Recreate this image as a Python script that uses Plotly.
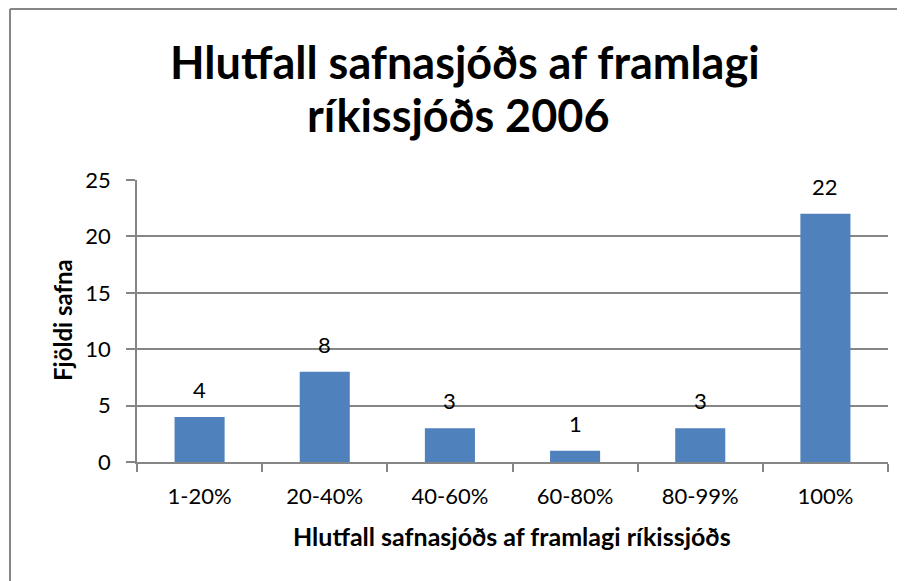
import plotly.graph_objects as go

categories = ["1-20%", "20-40%", "40-60%", "60-80%", "80-99%", "100%"]
counts = [4, 8, 3, 1, 3, 22]
y_ticks = [0, 5, 10, 15, 20, 25]

title_line1 = "Hlutfall safnasjóðs af framlagi"
title_line2 = "ríkissjóðs 2006"
x_title = "Hlutfall safnasjóðs af framlagi ríkissjóðs"
y_title = "Fjöldi safna"

W, H = 905, 581
OFF = 8  # page body margin
L, R, T, B = 137 - OFF, 25, 180 - OFF, 127
pw, ph = W - L - R, H - T - B

def px(x):
    # x in page pixels -> paper coordinate
    return (x - OFF - L) / pw

def py(y):
    return (H - B - (y - OFF)) / ph

FONT = "Lato"
GRID = "#868686"

fig = go.Figure()
fig.add_trace(go.Bar(
    x=categories, y=counts,
    marker=dict(color="#4F81BD", line=dict(width=0)),
    width=0.4,
))

for c, v in zip(categories, counts):
    fig.add_annotation(x=c, y=v, text=str(v), showarrow=False,
                       xref="x", yref="y", yanchor="bottom", yshift=12,
                       font=dict(family=FONT, size=22, color="black"))

fig.add_annotation(x=px(465), y=py(62), xref="paper", yref="paper",
                   text=title_line1, showarrow=False, xanchor="center", yanchor="middle",
                   font=dict(family=FONT, size=45, color="black", weight="bold"))
fig.add_annotation(x=px(458), y=py(115), xref="paper", yref="paper",
                   text=title_line2, showarrow=False, xanchor="center", yanchor="middle",
                   font=dict(family=FONT, size=45, color="black", weight="bold"))
fig.add_annotation(x=px(512), y=py(536), xref="paper", yref="paper",
                   text=x_title, showarrow=False, xanchor="center", yanchor="middle",
                   font=dict(family=FONT, size=25, color="black", weight="bold"))
fig.add_annotation(x=px(62), y=py(320), xref="paper", yref="paper",
                   text=y_title, showarrow=False, xanchor="center", yanchor="middle",
                   textangle=-90,
                   font=dict(family=FONT, size=24, color="black", weight="bold"))

# chart border (left and top edges visible)
fig.add_shape(type="line", xref="paper", yref="paper",
              x0=px(10), y0=py(600), x1=px(10), y1=py(9),
              line=dict(color=GRID, width=2))
fig.add_shape(type="line", xref="paper", yref="paper",
              x0=px(10), y0=py(9), x1=px(920), y1=py(9),
              line=dict(color=GRID, width=2))

fig.update_layout(
    width=W, height=H,
    margin=dict(l=L, r=R, t=T, b=B),
    plot_bgcolor="white", paper_bgcolor="white",
    showlegend=False,
    font=dict(family=FONT, size=22, color="black"),
    xaxis=dict(
        type="category", tickson="boundaries", ticks="outside", ticklen=8,
        tickcolor=GRID, tickwidth=1.5,
        showline=True, linecolor=GRID, linewidth=1.5,
        showgrid=False, tickfont=dict(family=FONT, size=22, color="black"),
        ticklabelstandoff=14,
    ),
    yaxis=dict(
        range=[0, 25], tickvals=y_ticks, ticks="outside", ticklen=9,
        tickcolor=GRID, tickwidth=1.5,
        showline=True, linecolor=GRID, linewidth=1.5,
        showgrid=True, gridcolor=GRID, gridwidth=1.5,
        zeroline=False, tickfont=dict(family=FONT, size=22, color="black"),
        ticklabelstandoff=11,
    ),
)

fig.write_html("out.html")
